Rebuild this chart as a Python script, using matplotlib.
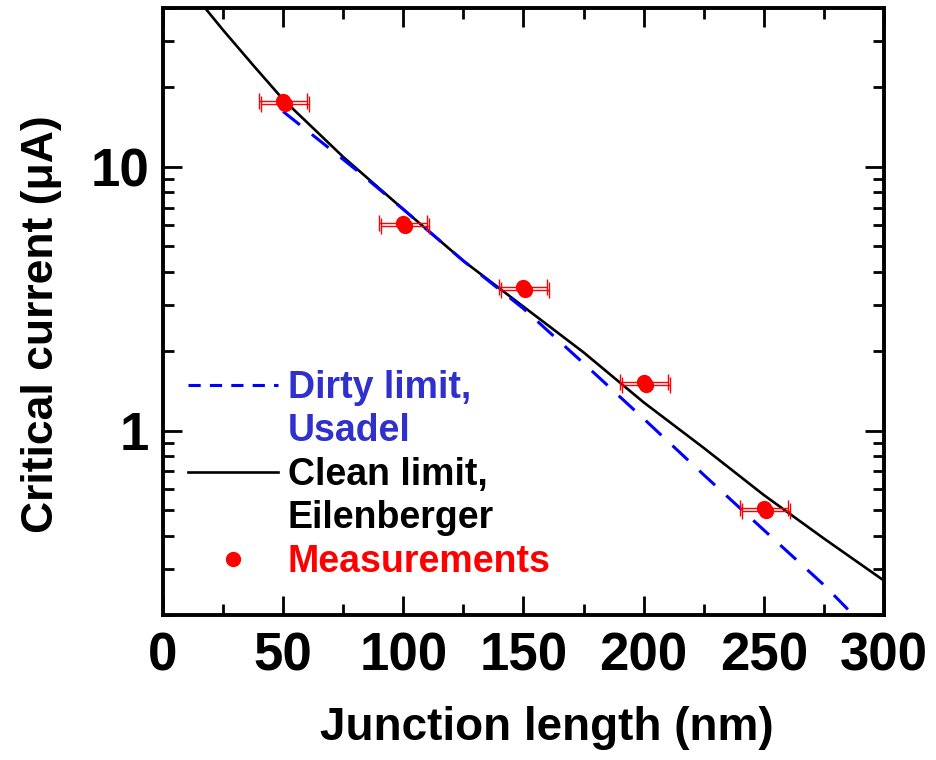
import numpy as np
import matplotlib
matplotlib.use("Agg")
import matplotlib.pyplot as plt
import matplotlib.ticker as ticker
import matplotlib.transforms as mtransforms
from matplotlib.lines import Line2D

plt.rcParams['font.family'] = ['Liberation Sans', 'DejaVu Sans']
plt.rcParams['font.weight'] = 'bold'

# Measurements
length_nm = [50, 100, 150, 200, 250]
ic_meas = [17.7, 6.1, 3.5, 1.53, 0.51]
length_err = [10, 10, 10, 10, 10]

# Clean limit (Eilenberger)
clean_x = [18, 25, 38, 50, 75, 100, 125, 150, 175, 200, 225, 250, 275, 300]
clean_y = [39.5, 33.0, 24.0, 18.0, 10.9, 6.9, 4.4, 2.95, 1.98, 1.28, 0.86, 0.57, 0.39, 0.27]

# Dirty limit (Usadel)
dirty_x = [50, 70, 80, 100, 125, 150, 175, 200, 225, 250, 275, 285]
dirty_y = [16.2, 11.6, 9.8, 6.9, 4.4, 2.9, 1.8, 1.11, 0.68, 0.42, 0.26, 0.21]

x_ticks = [0, 50, 100, 150, 200, 250, 300]
y_ticks = [1, 10]

fig = plt.figure(figsize=(9.36, 7.6), dpi=100)
ax = fig.add_axes([0.1741, 0.1908, 0.7703, 0.7987])

ax.plot(clean_x, clean_y, color='black', lw=1.9)
ax.plot(dirty_x, dirty_y, color='blue', lw=2.2, dashes=(7, 5))

# error bars drawn twice with a small shift (doubled look of the original)
shifted = mtransforms.offset_copy(ax.transData, fig=fig, x=2, y=-3, units='dots')
for tr in (ax.transData, shifted):
    ax.errorbar(length_nm, ic_meas, xerr=length_err, fmt='o', color='red',
                ms=10, ecolor='red', elinewidth=1.0, capsize=6, capthick=1.0,
                transform=tr)

ax.set_yscale('log')
ax.set_xlim(0, 300)
ax.set_ylim(0.2, 40)

ax.xaxis.set_major_locator(ticker.FixedLocator(x_ticks))
ax.xaxis.set_minor_locator(ticker.MultipleLocator(25))
ax.yaxis.set_major_locator(ticker.FixedLocator(y_ticks))
ax.yaxis.set_major_formatter(ticker.FuncFormatter(lambda v, _: f'{v:g}'))
ax.yaxis.set_minor_locator(ticker.LogLocator(base=10, subs=np.arange(2, 10)))
ax.yaxis.set_minor_formatter(ticker.NullFormatter())

ax.tick_params(which='both', direction='in', top=True, right=True, width=2)
ax.tick_params(which='major', length=14)
ax.tick_params(which='minor', length=8)
ax.tick_params(axis='x', labelsize=38, pad=12)
ax.tick_params(axis='y', labelsize=38, pad=10)
for lab in ax.get_xticklabels() + ax.get_yticklabels():
    lab.set_fontweight('bold')

for sp in ax.spines.values():
    sp.set_linewidth(2.8)

ax.set_xlabel('Junction length (nm)', fontsize=33, fontweight='bold')
ax.set_ylabel('Critical current (μA)', fontsize=32, fontweight='bold')
ax.xaxis.set_label_coords(0.533, -0.15)
ax.yaxis.set_label_coords(-0.14, 0.48)

handles = [Line2D([], [], color='blue', lw=2.2, dashes=(4, 3)),
           Line2D([], [], linestyle='none'),
           Line2D([], [], color='black', lw=1.9),
           Line2D([], [], linestyle='none'),
           Line2D([], [], color='red', marker='o', ms=10, linestyle='none')]
labels = ['Dirty limit,', 'Usadel', 'Clean limit,', 'Eilenberger', 'Measurements']
leg = ax.legend(handles, labels, loc='upper left', bbox_to_anchor=(0.035, 0.404),
                frameon=False, fontsize=27, borderpad=0, borderaxespad=0,
                handlelength=2.4, handletextpad=0.25, labelspacing=0.2,
                labelcolor=['#3030cc', '#3030cc', 'black', 'black', 'red'])

fig.savefig('out.png', dpi=100)
